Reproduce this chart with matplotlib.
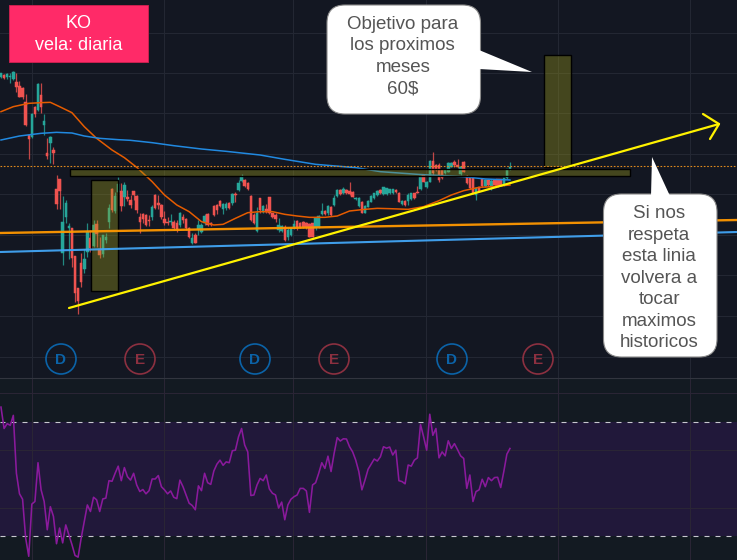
import numpy as np
import matplotlib
matplotlib.use('Agg')
import matplotlib.pyplot as plt
from matplotlib.patches import FancyBboxPatch, Polygon, Rectangle, Circle

plt.rcParams['font.family'] = ['Liberation Sans', 'DejaVu Sans']

# candles (price level, grows downward on the chart)
bar_open = [52,45,52,52,58,65,78,85,125,226,232,140,150,105,195,278,248,270,388,358,
    580,472,503,505,588,683,608,628,575,535,558,492,568,582,540,487,387,452,395,393,
    412,410,420,393,408,470,462,465,480,470,405,428,435,478,485,487,485,490,495,472,
    478,503,548,525,508,515,490,462,488,437,434,422,448,445,430,430,403,390,362,360,
    368,407,465,512,415,455,448,412,460,465,510,513,500,532,525,502,482,490,485,490,
    492,490,505,502,462,452,460,440,435,408,390,400,390,393,395,417,438,425,458,440,
    425,415,405,390,402,402,400,400,390,398,432,422,422,417,400,395,388,345,382,365,
    302,315,315,330,340,335,320,305,315,342,305,348,350,350,405,382,358,378,360,380,
    360,358,358,375,355,328]
bar_close = [40,55,42,47,35,80,110,112,195,238,162,162,72,140,183,288,232,278,432,392,
    487,430,497,595,700,722,665,597,515,565,495,522,585,525,530,445,450,408,372,438,
    375,418,435,405,450,486,478,495,483,440,445,435,472,490,490,482,505,508,460,480,
    503,532,534,550,495,495,468,495,495,465,450,438,432,432,445,403,406,370,352,378,
    388,480,490,458,450,438,455,460,472,478,495,498,540,510,505,492,502,502,502,502,
    532,530,475,468,453,462,438,465,415,390,402,386,400,402,410,413,415,458,438,422,
    408,400,393,400,382,385,388,388,397,425,422,435,405,400,415,398,348,365,365,302,
    340,330,360,355,330,308,308,315,322,322,335,370,385,400,385,392,378,360,375,362,
    375,378,375,355,328,320]
bar_high = [38,43,38,40,33,40,62,80,103,226,160,138,70,70,163,235,228,260,345,358,
    408,420,490,505,588,683,580,567,488,510,480,480,530,525,518,432,385,395,350,370,
    365,390,405,393,405,460,458,462,465,436,402,405,432,452,470,462,480,480,456,462,
    475,500,520,520,480,490,462,460,486,435,432,420,428,425,425,400,395,360,343,358,
    366,405,460,440,415,435,432,410,458,460,475,495,495,503,503,480,480,485,482,485,
    490,488,470,465,428,450,435,438,405,388,388,382,388,365,393,410,410,423,436,420,
    406,398,391,388,380,383,386,386,388,396,420,420,400,398,398,378,346,343,363,300,
    277,313,310,328,328,306,306,300,297,320,303,346,348,348,380,380,356,358,358,358,
    358,356,356,353,326,307]
bar_low = [54,57,58,68,60,95,112,118,197,296,234,172,152,158,224,298,308,312,448,448,
    615,488,598,620,725,762,680,640,590,575,560,560,595,592,550,505,455,458,400,452,
    438,422,445,420,460,518,490,498,497,480,447,448,478,495,495,495,510,515,500,490,
    510,535,552,550,525,520,495,498,497,468,462,440,462,450,448,435,425,392,365,380,
    390,482,492,515,460,458,460,462,474,485,515,516,542,540,528,508,510,505,505,508,
    532,532,510,505,465,465,465,467,438,410,405,402,402,405,412,420,442,460,460,442,
    427,417,407,402,404,404,402,402,399,427,434,437,435,419,417,400,390,367,384,367,
    345,332,365,357,342,337,322,320,325,344,337,372,387,402,420,394,380,380,377,390,
    377,380,377,377,357,330]

# moving averages, sampled at these bars
orange_ma_bars = [0,4,9,13,16,19,23,27,31,36,40,44,49,53,57,61,65,69,72,76,80,84,
    88,92,96,100,105,109,113,118,122,126,132,137,142,146,150,155,159,165]
orange_ma = [155,140,130,128,127,140,158,200,235,270,293,322,365,405,435,455,485,495,493,475,458,455,
    455,463,468,472,472,468,453,448,445,446,448,440,422,405,392,382,380,375]
blue_ma_bars = [0,6,13,18,23,27,32,38,42,49,56,65,73,84,92,102,115,123,135,139,150,157,165]
blue_ma = [240,228,220,217,219,228,235,239,241,248,257,267,274,285,298,313,323,335,343,345,350,357,360]

rsi = [75.2,67.7,69.4,68.8,72.3,52.0,44.8,42.9,29.3,22.9,41.2,42.1,55.7,46.2,42.1,32.2,40.3,36.9,27.3,32.8,
    27.6,33.9,30.5,27.0,23.2,22.6,29.3,35.1,40.9,38.6,43.6,42.7,38.6,43.0,43.3,49.4,49.2,52.0,54.5,49.4,
    54.0,50.8,49.6,52.0,47.9,45.6,46.3,44.8,45.9,50.0,50.0,51.2,47.3,46.2,44.8,45.8,43.6,43.1,49.6,47.3,
    44.4,41.5,40.7,39.2,47.6,45.9,52.0,48.7,48.1,52.8,55.2,56.6,54.8,56.0,55.7,59.9,60.1,64.8,67.7,61.9,
    59.5,44.2,44.4,47.9,50.2,49.4,51.4,46.5,45.0,44.4,39.8,41.9,35.7,40.9,42.9,43.8,44.4,46.7,46.7,45.8,
    38.3,47.9,48.7,52.0,55.7,53.7,58.0,52.6,59.0,64.5,63.3,64.1,64.0,61.3,59.5,56.6,52.6,46.2,49.6,53.4,
    55.2,57.0,56.3,57.8,61.3,60.8,61.2,58.4,60.1,49.4,49.1,48.3,54.9,54.5,56.6,57.4,69.1,64.8,60.1,72.7,
    65.3,67.7,57.4,59.5,58.1,63.4,60.7,62.4,60.3,58.1,57.2,46.7,51.4,42.1,45.6,46.2,49.9,47.3,50.5,49.4,
    50.5,50.6,47.0,52.6,58.7,60.7]

price_grid = [-82,39,159,282,402,525,645,768,891]
time_grid = [10,53,94.7,137.8,180.5,223.5]
rsi_grid = [80,60,40]
earnings_marks = [('D',61,'#0b63a8'),('E',140,'#8c3040'),('D',255,'#0b63a8'),
    ('E',334,'#8c3040'),('D',452,'#0b63a8'),('E',538,'#8c3040')]

BG = '#131722'
GRID = '#232733'
GREEN = '#26a69a'
RED = '#ef5350'
OLIVE = (0.63, 0.62, 0.09, 0.35)

fig = plt.figure(figsize=(7.37, 5.60), dpi=100, facecolor=BG)
ax = fig.add_axes([0, 1 - 378/560, 1, 378/560], facecolor=BG)
ax_rsi = fig.add_axes([0, 0, 1, 182/560], facecolor='#131a22')

bars = np.arange(len(bar_open))
o = np.array(bar_open)
c = np.array(bar_close)
cols = [GREEN if cc < oo else RED for oo, cc in zip(o, c)]
ax.vlines(bars, bar_high, bar_low, colors=cols, lw=0.9, alpha=0.8, zorder=2)
ax.bar(bars, np.abs(c - o), bottom=np.minimum(o, c), width=0.8, color=cols, edgecolor=cols, lw=0.35, zorder=3)
ax.plot(orange_ma_bars, orange_ma, color='#e65c00', lw=1.1, zorder=4)
ax.plot(blue_ma_bars, blue_ma, color='#2189e0', lw=1.1, zorder=4)

ax.set_xlim(-0.32, 238.6)
ax.set_ylim(954, -180)
ax.set_xticks(time_grid)
ax.set_yticks(price_grid)
ax.grid(True, color=GRID, lw=0.75)
ax.set_axisbelow(True)
ax.tick_params(left=False, bottom=False, labelleft=False, labelbottom=False)
for s in ax.spines.values():
    s.set_visible(False)

# rsi pane
rsi_x = np.arange(len(rsi)) + (len(bar_open) - len(rsi))
ax_rsi.axhspan(30, 70, color='#21183a', lw=0, zorder=0)
ax_rsi.plot(rsi_x, rsi, color='#8a1a9c', lw=1.15, zorder=3)
ax_rsi.axhline(70, color='#c8c8d0', lw=0.8, dashes=(4.5, 5.4), zorder=2)
ax_rsi.axhline(30, color='#c8c8d0', lw=0.8, dashes=(4.5, 5.4), zorder=2)
ax_rsi.set_xlim(-0.32, 238.6)
ax_rsi.set_ylim(21.6, 85.4)
ax_rsi.set_xticks(time_grid)
ax_rsi.set_yticks(rsi_grid)
ax_rsi.grid(True, color='#2a2535', lw=0.75)
ax_rsi.set_axisbelow(True)
ax_rsi.tick_params(left=False, bottom=False, labelleft=False, labelbottom=False)
for s in ax_rsi.spines.values():
    s.set_visible(False)
ax_rsi.spines['top'].set_visible(True)
ax_rsi.spines['top'].set_color('#32353f')

# hand drawn stuff goes on top, in picture pixels
top = fig.add_axes([0, 0, 1, 1], facecolor='none')
top.set_xlim(0, 737)
top.set_ylim(560, 0)
top.axis('off')

top.plot([0, 737], [166, 166], color='#e08a1e', lw=0.8, dashes=(1.5, 1.5))
top.plot([0, 737], [233, 220], color='#ff9800', lw=1.7, alpha=0.95)
top.plot([0, 737], [252, 232], color='#42a5f5', lw=1.5, alpha=0.95)

for x, y, w, h in [(91, 180, 27, 111), (70, 169, 560, 7), (544, 55, 27, 112)]:
    top.add_patch(Rectangle((x, y), w, h, fc=OLIVE, ec='black', lw=1))

top.plot([69, 719], [308, 124], color='#fff200', lw=1.6, solid_capstyle='round')
top.plot([703, 719, 710], [114, 124, 139], color='#fff200', lw=1.6, solid_capstyle='round')

for letter, x, col in earnings_marks:
    top.add_patch(Circle((x, 359), 15, fc='none', ec=col, lw=1.2))
    top.text(x, 359.5, letter, color=col, fontsize=11, fontweight='bold', ha='center', va='center')

# title tag
top.add_patch(Rectangle((9.5, 4.5), 138.5, 57, fc='#ff2a68', ec='#c8204f', lw=0.7))
top.text(78.5, 24, 'KO', color='white', fontsize=13, ha='center', va='center')
top.text(78.5, 45, 'vela: diaria', color='white', fontsize=13, ha='center', va='center')

# callouts
def callout(x, y, w, h, tail, lines, first_y):
    top.add_patch(FancyBboxPatch((x + 18, y + 18), w - 36, h - 36, boxstyle='round,pad=18,rounding_size=18',
                                 fc='white', ec='#8a8a8a', lw=0.8, zorder=6))
    top.add_patch(Polygon(tail, fc='white', ec='none', zorder=6))
    for i, line in enumerate(lines):
        top.text(x + w / 2 - 1, first_y + i * 21.4, line, color='#555555', fontsize=13.5, ha='center', va='center', zorder=7)

callout(327, 5, 153.5, 109, [(479, 50), (532, 72), (479, 69)],
        ['Objetivo para', 'los proximos', 'meses', '60$'], 24.5)
callout(603.5, 194, 113.5, 163, [(651, 196), (652, 157), (670, 196)],
        ['Si nos', 'respeta', 'esta linia', 'volvera a', 'tocar', 'maximos', 'historicos'], 214)

fig.savefig('out.png', dpi=100, facecolor=BG)
